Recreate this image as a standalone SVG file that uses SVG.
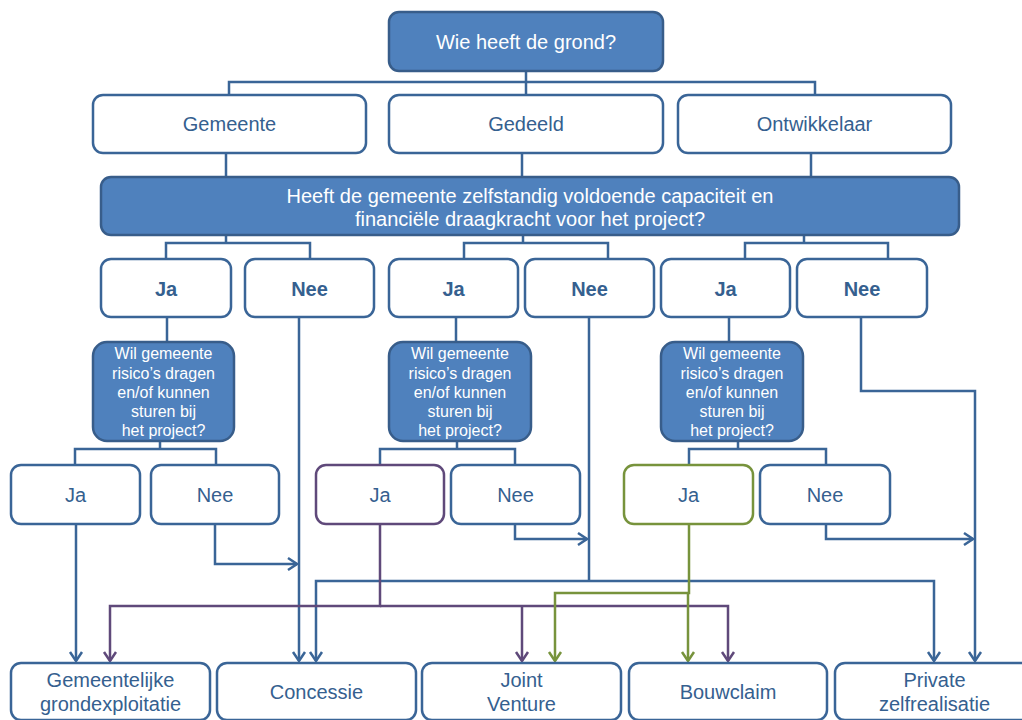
<svg xmlns="http://www.w3.org/2000/svg" width="1022" height="720" viewBox="0 0 1022 720">
<style>
.q{fill:#4F81BD;stroke:#385D8A;stroke-width:2.5}
.w{fill:#FFFFFF;stroke:#3A6597;stroke-width:2.5}
.wp{fill:#FFFFFF;stroke:#5F497A;stroke-width:2.5}
.wg{fill:#FFFFFF;stroke:#77933C;stroke-width:2.5}
.tw{fill:#FFFFFF;font-family:"Liberation Sans",Arial,sans-serif;text-anchor:middle}
.tb{fill:#35608F;font-family:"Liberation Sans",Arial,sans-serif;text-anchor:middle;font-size:20px}
.bold{font-weight:bold}
.c{fill:none;stroke:#3A6597;stroke-width:2.5}
.cp{fill:none;stroke:#5F497A;stroke-width:2.5}
.cg{fill:none;stroke:#77933C;stroke-width:2.5}
</style>
<defs>
<marker id="ab" markerUnits="userSpaceOnUse" viewBox="-12 -8 14 16" markerWidth="14" markerHeight="16" refX="0" refY="0" orient="auto"><path d="M-9,-6 L0,0 L-9,6" fill="none" stroke="#3A6597" stroke-width="2.5"/></marker>
<marker id="ap" markerUnits="userSpaceOnUse" viewBox="-12 -8 14 16" markerWidth="14" markerHeight="16" refX="0" refY="0" orient="auto"><path d="M-9,-6 L0,0 L-9,6" fill="none" stroke="#5F497A" stroke-width="2.5"/></marker>
<marker id="ag" markerUnits="userSpaceOnUse" viewBox="-12 -8 14 16" markerWidth="14" markerHeight="16" refX="0" refY="0" orient="auto"><path d="M-9,-6 L0,0 L-9,6" fill="none" stroke="#77933C" stroke-width="2.5"/></marker>
</defs>
<rect width="1022" height="720" fill="#FFFFFF"/>
<g id="connectors">
<path class="c" d="M526 71 V95 M229 95 V82 H815 V95"/>
<path class="c" d="M226 153 V177 M522 153 V177 M811 153 V177"/>
<path class="c" d="M226 235 V243 M166 259 V243 H310 V259"/>
<path class="c" d="M523 235 V243 M464 259 V243 H608 V259"/>
<path class="c" d="M804 235 V243 M745 259 V243 H888 V259"/>
<path class="c" d="M167 317 V342 M456 317 V342 M729 317 V342"/>
<path class="c" d="M160 441 V449 M75 465 V449 H216 V465"/>
<path class="c" d="M457 441 V449 M380 465 V449 H515 V465"/>
<path class="c" d="M738 441 V449 M689 465 V449 H826 V465"/>
<path class="c" d="M299 317 V661" marker-end="url(#ab)"/>
<path class="c" d="M589 317 V581"/>
<path class="c" d="M589 581 H316 V661" marker-end="url(#ab)"/>
<path class="c" d="M589 581 H934 V661" marker-end="url(#ab)"/>
<path class="c" d="M861 317 V391 H975 V661" marker-end="url(#ab)"/>
<path class="c" d="M215 524 V564 H297" marker-end="url(#ab)"/>
<path class="c" d="M515 524 V539 H587" marker-end="url(#ab)"/>
<path class="c" d="M826 524 V539 H973" marker-end="url(#ab)"/>
<path class="c" d="M76 524 V661" marker-end="url(#ab)"/>
<path class="cp" d="M380 524 V606 H110 V661" marker-end="url(#ap)"/>
<path class="cp" d="M380 606 H728 V661" marker-end="url(#ap)"/>
<path class="cp" d="M522 606 V661" marker-end="url(#ap)"/>
<path class="cg" d="M689 524 V593 H555 V661" marker-end="url(#ag)"/>
<path class="cg" d="M688 593 V661" marker-end="url(#ag)"/>
</g>
<g id="n-root"><rect class="q" x="389" y="12" width="274" height="59" rx="10"/><text class="tw" x="526" y="49" font-size="20">Wie heeft de grond?</text></g>
<g id="n-gemeente"><rect class="w" x="93" y="95" width="273" height="58" rx="10"/><text class="tb" x="229.5" y="131">Gemeente</text></g>
<g id="n-gedeeld"><rect class="w" x="389" y="95" width="274" height="58" rx="10"/><text class="tb" x="526" y="131">Gedeeld</text></g>
<g id="n-ontwikkelaar"><rect class="w" x="678" y="95" width="273" height="58" rx="10"/><text class="tb" x="814.5" y="131">Ontwikkelaar</text></g>
<g id="n-capaciteit"><rect class="q" x="101" y="177" width="858" height="58" rx="10"/><text class="tw" x="530" y="202.5" font-size="20">Heeft de gemeente zelfstandig voldoende capaciteit en</text><text class="tw" x="530" y="226" font-size="20">financiële draagkracht voor het project?</text></g>
<g id="n-ja1"><rect class="w" x="101" y="259" width="130" height="58" rx="10"/><text class="tb bold" x="166" y="296">Ja</text></g>
<g id="n-nee1"><rect class="w" x="245" y="259" width="129" height="58" rx="10"/><text class="tb bold" x="309.5" y="296">Nee</text></g>
<g id="n-ja2"><rect class="w" x="389" y="259" width="129" height="58" rx="10"/><text class="tb bold" x="453.5" y="296">Ja</text></g>
<g id="n-nee2"><rect class="w" x="525" y="259" width="129" height="58" rx="10"/><text class="tb bold" x="589.5" y="296">Nee</text></g>
<g id="n-ja3"><rect class="w" x="661" y="259" width="129" height="58" rx="10"/><text class="tb bold" x="725.5" y="296">Ja</text></g>
<g id="n-nee3"><rect class="w" x="797" y="259" width="130" height="58" rx="10"/><text class="tb bold" x="862" y="296">Nee</text></g>
<g id="n-q1"><rect class="q" x="93" y="342" width="141" height="99" rx="14"/><text class="tw" font-size="16"><tspan x="163.5" y="359">Wil gemeente</tspan><tspan x="163.5" y="378.5">risico’s dragen</tspan><tspan x="163.5" y="398">en/of kunnen</tspan><tspan x="163.5" y="417">sturen bij</tspan><tspan x="163.5" y="436">het project?</tspan></text></g>
<g id="n-q2"><rect class="q" x="389" y="342" width="142" height="99" rx="14"/><text class="tw" font-size="16"><tspan x="460" y="359">Wil gemeente</tspan><tspan x="460" y="378.5">risico’s dragen</tspan><tspan x="460" y="398">en/of kunnen</tspan><tspan x="460" y="417">sturen bij</tspan><tspan x="460" y="436">het project?</tspan></text></g>
<g id="n-q3"><rect class="q" x="661" y="342" width="142" height="99" rx="14"/><text class="tw" font-size="16"><tspan x="732" y="359">Wil gemeente</tspan><tspan x="732" y="378.5">risico’s dragen</tspan><tspan x="732" y="398">en/of kunnen</tspan><tspan x="732" y="417">sturen bij</tspan><tspan x="732" y="436">het project?</tspan></text></g>
<g id="n-ja4"><rect class="w" x="11" y="465" width="129" height="59" rx="10"/><text class="tb" x="75.5" y="502">Ja</text></g>
<g id="n-nee4"><rect class="w" x="151" y="465" width="128" height="59" rx="10"/><text class="tb" x="215" y="502">Nee</text></g>
<g id="n-ja5"><rect class="wp" x="316" y="465" width="128" height="59" rx="10"/><text class="tb" x="380" y="502">Ja</text></g>
<g id="n-nee5"><rect class="w" x="451" y="465" width="129" height="59" rx="10"/><text class="tb" x="515.5" y="502">Nee</text></g>
<g id="n-ja6"><rect class="wg" x="624" y="465" width="129" height="59" rx="10"/><text class="tb" x="688.5" y="502">Ja</text></g>
<g id="n-nee6"><rect class="w" x="760" y="465" width="130" height="59" rx="10"/><text class="tb" x="825" y="502">Nee</text></g>
<g id="n-grondexploitatie"><rect class="w" x="11" y="663" width="199" height="57" rx="10"/><text class="tb"><tspan x="110.5" y="687">Gemeentelijke</tspan><tspan x="110.5" y="711">grondexploitatie</tspan></text></g>
<g id="n-concessie"><rect class="w" x="217" y="663" width="199" height="57" rx="10"/><text class="tb" x="316.5" y="699">Concessie</text></g>
<g id="n-jv"><rect class="w" x="422" y="663" width="199" height="57" rx="10"/><text class="tb"><tspan x="521.5" y="687">Joint</tspan><tspan x="521.5" y="711">Venture</tspan></text></g>
<g id="n-bouwclaim"><rect class="w" x="629" y="663" width="198" height="57" rx="10"/><text class="tb" x="728" y="699">Bouwclaim</text></g>
<g id="n-private"><rect class="w" x="835" y="663" width="199" height="57" rx="10"/><text class="tb"><tspan x="934.5" y="687">Private</tspan><tspan x="934.5" y="711">zelfrealisatie</tspan></text></g>
</svg>
